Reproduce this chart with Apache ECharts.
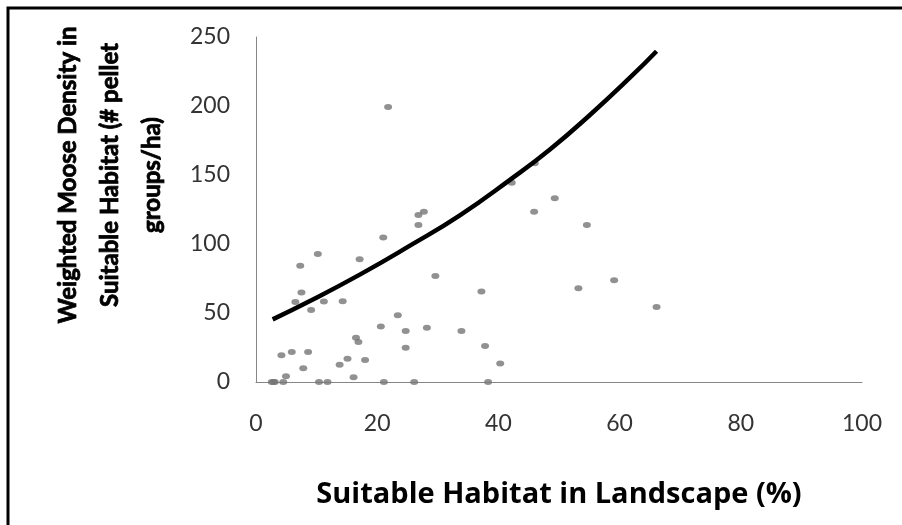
<!DOCTYPE html>
<html>
<head>
<meta charset="utf-8">
<script src="https://cdn.jsdelivr.net/npm/echarts@6/dist/echarts.min.js"></script>
<style>
  html, body { margin: 0; padding: 0; background: #fff; }
  #chart { width: 902px; height: 525px; }
</style>
</head>
<body>
<div id="chart"></div>
<script>
// Suitable habitat in landscape (%) for each sampled site
const habitatPct = [
  2.6, 2.9, 3.1, 4.5, 4.95, 4.2, 5.9, 8.6, 7.8, 10.4,
  11.8, 13.8, 15.1, 16.5, 16.9, 18.0, 16.1, 21.1, 24.7, 24.7,
  26.1, 28.2, 7.3, 10.2, 17.1, 21.0, 7.5, 6.5, 9.1, 11.2,
  14.3, 29.6, 23.4, 20.6, 37.2, 37.8, 38.3, 33.9, 40.3, 21.8,
  46.0, 42.2, 49.3, 45.9, 54.6, 26.8, 27.7, 26.8, 53.2, 59.1,
  66.1
];
// Weighted moose density in suitable habitat (# pellet groups/ha)
const mooseDensity = [
  0, 0, 0, 0, 4.2, 19.3, 21.7, 21.7, 10, 0,
  0, 12.5, 16.9, 32, 29, 15.9, 3.5, 0, 37, 24.8,
  0, 39.4, 84.2, 92.7, 89, 104.8, 64.8, 58, 52.2, 58.3,
  58.5, 76.9, 48.3, 40.3, 65.5, 26, 0, 37, 13.4, 199.3,
  158.6, 144.3, 133.1, 123.4, 113.7, 121, 123.4, 113.7, 67.9, 73.8,
  54.4
];
// Fitted trend curve, sampled along its length
const trendX = [2.75, 8.9, 17.2, 25.4, 33.7, 41.9, 48.5, 55.1, 61.7, 66.1];
const trendY = [45.4, 58.7, 78.0, 98.8, 121, 146.5, 168.5, 193.5, 220.5, 239.7];

const xTicks = { min: 0, max: 100, interval: 20 };
const yTicks = { min: 0, max: 250, interval: 50 };

const xTitle = 'Suitable Habitat in Landscape (%)';
const yTitle = 'Weighted Moose Density in\nSuitable Habitat (# pellet\ngroups/ha)';

const points = habitatPct.map((x, i) => [x, mooseDensity[i]]);
const trend = trendX.map((x, i) => [x, trendY[i]]);

const chart = echarts.init(document.getElementById('chart'), null, { renderer: 'canvas' });

const axisLine = { show: true, lineStyle: { color: '#868686', width: 1 } };
const tickFont = { color: '#333', fontFamily: 'Lato', fontSize: 23 };

chart.setOption({
  animation: false,
  backgroundColor: '#fff',
  grid: { left: 256, right: 40, top: 37, bottom: 143, containLabel: false },
  xAxis: {
    type: 'value',
    min: xTicks.min, max: xTicks.max, interval: xTicks.interval,
    axisLine: axisLine,
    axisTick: { show: false },
    splitLine: { show: false },
    axisLabel: Object.assign({ margin: 30 }, tickFont),
    name: xTitle,
    nameLocation: 'middle',
    nameGap: 98,
    nameTextStyle: { color: '#000', fontFamily: 'Open Sans', fontWeight: 'bold', fontSize: 29 }
  },
  yAxis: {
    type: 'value',
    min: yTicks.min, max: yTicks.max, interval: yTicks.interval,
    axisLine: axisLine,
    axisTick: { show: false },
    splitLine: { show: false },
    axisLabel: Object.assign({ margin: 26 }, tickFont)
  },
  graphic: [
    {
      type: 'rect',
      shape: { x: 8, y: 8, width: 1200, height: 1200 },
      style: { fill: 'none', stroke: '#000', lineWidth: 3 },
      silent: true
    },
    {
      type: 'text',
      x: 110,
      y: 175,
      rotation: Math.PI / 2,
      style: {
        text: yTitle,
        fill: '#000',
        stroke: '#000',
        lineWidth: 0.8,
        font: 'bold 24px Lato',
        textAlign: 'center',
        textVerticalAlign: 'middle',
        lineHeight: 42
      },
      silent: true
    }
  ],
  series: [
    {
      type: 'scatter',
      data: points,
      symbol: 'circle',
      symbolSize: [8, 6],
      itemStyle: { color: '#767676' },
      z: 2
    },
    {
      type: 'line',
      data: trend,
      smooth: true,
      showSymbol: false,
      lineStyle: { color: '#000', width: 4.5 },
      z: 3
    }
  ]
});
</script>
</body>
</html>
